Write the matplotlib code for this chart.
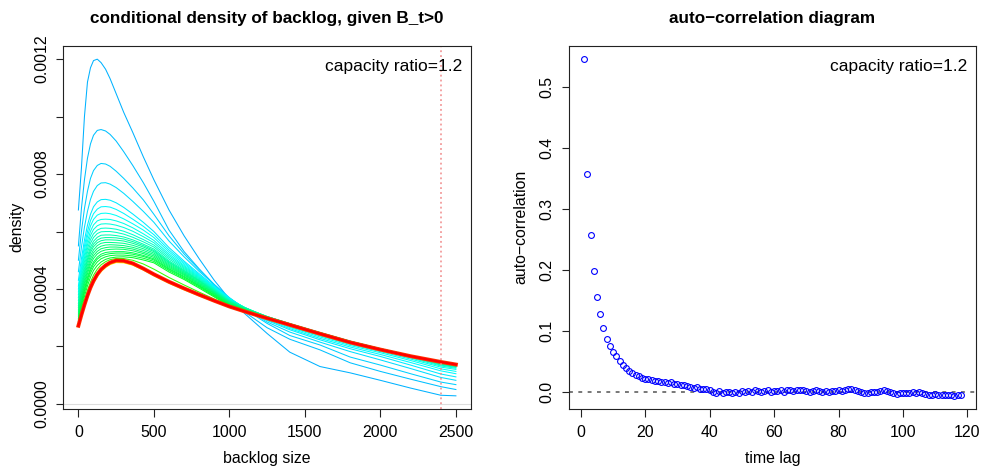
import colorsys
import numpy as np
import matplotlib
matplotlib.use("Agg")
import matplotlib.pyplot as plt

plt.rcParams['font.family'] = ['Liberation Sans', 'DejaVu Sans']

# ---- left panel: conditional densities (values in 1e-6) ----
backlog_x = [0, 20, 40, 60, 80, 100, 125, 150, 180, 210, 250, 300, 360, 430, 500,
             600, 700, 800, 900, 1000, 1100, 1250, 1400, 1600, 1800, 2000, 2200, 2400, 2500]
dens_scale = 1e-6
dens_01 = [675, 820, 1000, 1120, 1170, 1195, 1200, 1188, 1165, 1132, 1080, 1015, 945, 860, 780,
           675, 585, 505, 430, 365, 315, 245, 180, 130, 108, 82, 55, 30, 28]
dens_02 = [550, 680, 780, 855, 905, 935, 952, 955, 950, 938, 915, 878, 830, 770, 705,
           605, 530, 470, 415, 365, 320, 265, 225, 188, 143, 113, 86, 60, 50]
dens_03 = [500, 600, 680, 740, 785, 812, 830, 837, 835, 827, 810, 785, 752, 710, 660,
           585, 522, 467, 415, 368, 330, 280, 238, 205, 163, 135, 105, 76, 67]
dens_04 = [460, 545, 615, 670, 712, 740, 760, 769, 770, 765, 753, 733, 705, 670, 632,
           567, 512, 461, 415, 370, 332, 285, 250, 215, 182, 153, 123, 92, 82]
dens_05 = [430, 505, 570, 622, 660, 686, 703, 711, 712, 709, 700, 684, 661, 632, 600,
           544, 497, 453, 410, 368, 333, 290, 258, 223, 192, 165, 135, 104, 94]
dens_06 = [410, 485, 550, 600, 638, 662, 678, 686, 687, 685, 677, 663, 643, 618, 589,
           536, 492, 449, 407, 367, 334, 293, 262, 228, 198, 172, 144, 115, 105]
dens_07 = [400, 472, 535, 583, 619, 642, 657, 663, 664, 662, 656, 644, 627, 605, 579,
           529, 487, 446, 405, 366, 335, 296, 266, 233, 203, 178, 151, 122, 113]
dens_08 = [390, 460, 520, 567, 601, 623, 637, 642, 643, 642, 637, 628, 613, 592, 569,
           522, 482, 443, 403, 365, 336, 298, 269, 237, 207, 182, 156, 128, 120]
dens_09 = [380, 450, 508, 553, 586, 607, 620, 626, 627, 626, 622, 614, 601, 582, 561,
           516, 478, 440, 401, 364, 336, 300, 273, 241, 211, 186, 160, 132, 124]
dens_10 = [370, 438, 495, 540, 572, 592, 605, 611, 612, 611, 608, 601, 589, 572, 553,
           510, 474, 437, 399, 362, 336, 302, 276, 244, 214, 188, 163, 135, 127]
dens_11 = [360, 427, 483, 527, 559, 579, 593, 599, 600, 600, 597, 591, 580, 564, 546,
           504, 470, 434, 397, 360, 335, 303, 278, 246, 216, 190, 165, 137, 129]
dens_12 = [350, 416, 471, 514, 546, 566, 580, 587, 588, 588, 586, 581, 571, 556, 539,
           498, 466, 431, 395, 358, 335, 304, 279, 247, 217, 191, 166, 139, 130]
dens_13 = [342, 407, 461, 504, 536, 556, 570, 577, 579, 579, 578, 574, 565, 551, 534,
           494, 463, 429, 393, 357, 334, 304, 279, 248, 218, 192, 167, 140, 131]
dens_14 = [335, 399, 452, 495, 527, 547, 561, 568, 571, 571, 570, 567, 559, 546, 530,
           491, 460, 427, 391, 355, 333, 304, 279, 248, 218, 192, 167, 141, 132]
dens_15 = [327, 390, 442, 484, 516, 536, 551, 559, 562, 562, 561, 559, 552, 540, 525,
           487, 457, 424, 389, 354, 332, 303, 279, 248, 218, 192, 168, 142, 133]
dens_16 = [320, 381, 432, 473, 505, 526, 541, 549, 553, 554, 553, 551, 545, 534, 520,
           483, 454, 421, 387, 352, 331, 302, 279, 248, 218, 192, 168, 143, 134]
dens_17 = [313, 372, 422, 463, 495, 516, 531, 540, 544, 546, 546, 544, 539, 528, 515,
           479, 451, 418, 385, 350, 330, 301, 278, 247, 217, 192, 168, 144, 134]
dens_18 = [306, 364, 413, 453, 485, 506, 522, 531, 536, 538, 539, 538, 533, 523, 510,
           475, 448, 415, 383, 348, 329, 300, 278, 247, 217, 191, 168, 144, 135]
dens_19 = [298, 354, 402, 441, 473, 494, 511, 521, 527, 529, 530, 530, 526, 517, 505,
           471, 444, 412, 380, 346, 328, 300, 277, 246, 216, 191, 168, 145, 135]
dens_20 = [293, 348, 395, 434, 465, 487, 504, 514, 520, 523, 525, 525, 521, 513, 501,
           468, 441, 410, 378, 345, 327, 299, 277, 246, 216, 190, 167, 145, 136]
dens_21 = [287, 340, 386, 424, 455, 477, 494, 505, 512, 516, 518, 518, 515, 507, 496,
           464, 437, 407, 375, 343, 326, 298, 276, 245, 215, 190, 167, 145, 136]
dens_22 = [281, 330, 374, 411, 441, 464, 482, 494, 503, 508, 511, 512, 509, 501, 491,
           459, 433, 403, 372, 341, 325, 298, 276, 245, 215, 190, 167, 146, 136]
dens_23 = [277, 320, 360, 395, 424, 448, 469, 484, 495, 502, 506, 506, 500, 487, 469,
           440, 414, 389, 365, 343, 325, 299, 276, 245, 215, 190, 167, 146, 137]
dens_24 = [272, 308, 342, 373, 400, 422, 445, 462, 476, 486, 493, 492, 484, 467, 447,
           421, 398, 377, 357, 337, 320, 296, 273, 242, 213, 188, 165, 145, 136]
dens_lim = [272, 310, 345, 377, 405, 428, 451, 468, 482, 492, 499, 498, 489, 471, 451,
            425, 402, 380, 359, 339, 322, 298, 275, 244, 214, 189, 166, 146, 137]

curves = [dens_01, dens_02, dens_03, dens_04, dens_05, dens_06, dens_07, dens_08,
          dens_09, dens_10, dens_11, dens_12, dens_13, dens_14, dens_15, dens_16,
          dens_17, dens_18, dens_19, dens_20, dens_21, dens_22]
threshold = 2400

# ---- right panel: autocorrelation by lag ----
acf_vals = [0.546, 0.358, 0.258, 0.198, 0.156, 0.128, 0.105, 0.088, 0.076, 0.066,
            0.059, 0.051, 0.045, 0.040, 0.035, 0.031, 0.028, 0.026, 0.024, 0.022,
            0.021, 0.020, 0.019, 0.018, 0.017,
            0.017, 0.015, 0.016, 0.014, 0.013, 0.012, 0.012, 0.010, 0.009, 0.007,
            0.008, 0.006, 0.005, 0.006, 0.003,
            0.000, -0.001, 0.002, -0.002, 0.001, 0.001, -0.002, 0.000, -0.001, 0.002,
            0.001, 0.002, 0.000, 0.004, 0.002, 0.001, 0.002, 0.003, 0.001, 0.002,
            0.002, 0.003, 0.001, 0.003, 0.003, 0.002, 0.003, 0.003, 0.003, 0.002,
            0.000, 0.002, 0.003, 0.002, 0.001, 0.002, 0.001, 0.002, 0.002, 0.003,
            0.002, 0.003, 0.005, 0.005, 0.004, 0.002, 0.000, -0.001, -0.002, 0.000,
            0.001, 0.001, 0.002, 0.004, 0.002, 0.000, -0.001, -0.003, -0.002, -0.001,
            -0.001, -0.001, 0.000, -0.001, 0.000, -0.002, -0.003, -0.004, -0.004, -0.003,
            -0.004, -0.004, -0.005, -0.004, -0.005, -0.006, -0.004, -0.004]
lags = np.arange(1, len(acf_vals) + 1)

W, H = 984, 468
def fx(x):
    return x / W
def fy(y):
    return 1 - y / H

def r_lim(lo, hi):
    # R style 4% axis padding
    d = (hi - lo) * 0.04
    return lo - d, hi + d

fig = plt.figure(figsize=(9.84, 4.68), dpi=100)
ax1 = fig.add_axes([fx(63.3), fy(409.3), (471 - 63.3) / W, (409.3 - 45.7) / H])
ax2 = fig.add_axes([fx(569), fy(409.3), (976 - 569) / W, (409.3 - 45.7) / H])

lw = 0.75
bx = np.array(backlog_x)
y1 = np.array(dens_01) * dens_scale
ax1.axhline(0, color='#dddddd', lw=0.8, zorder=0)
n = len(curves)
for i, c in enumerate(curves):
    hue = 0.55 - (0.55 - 0.36) * i / (n - 1)
    col = colorsys.hsv_to_rgb(hue, 1, 1)
    ax1.plot(bx, np.array(c) * dens_scale, color=col, lw=lw)
ax1.plot(bx, np.array(dens_23) * dens_scale, color=colorsys.hsv_to_rgb(0.3, 1, 1), lw=lw)
ax1.plot(bx, np.array(dens_24) * dens_scale, color=colorsys.hsv_to_rgb(0.16, 1, 1), lw=1.2)
ax1.plot(bx, np.array(dens_lim) * dens_scale, color='#ff3300', lw=2.8)
ax1.plot(bx, np.array(dens_lim) * dens_scale, color='#ff0000', lw=1.6)
ax1.axvline(threshold, color='#f08a8a', lw=1.1, ls=(0, (1.2, 2)))
ax1.set_xlim(r_lim(0, 2500))
ax1.set_ylim(r_lim(y1.min(), y1.max()))
ax1.set_xticks([0, 500, 1000, 1500, 2000, 2500])
yt = np.arange(0, 0.00121, 0.0002)
ax1.set_yticks(yt)
ax1.set_yticklabels(['%.4f' % v if i % 2 == 0 else '' for i, v in enumerate(yt)])

ax2.axhline(0, color='#777777', lw=1.4, ls=(0, (2.0, 2.8)))
ax2.plot(lags, acf_vals, 'o', mfc='none', mec='blue', ms=4.2, mew=0.8)
ax2.set_xlim(r_lim(1, len(acf_vals)))
ax2.set_ylim(r_lim(min(acf_vals), max(acf_vals)))
ax2.set_xticks(range(0, 121, 20))
ax2.set_yticks([0, 0.1, 0.2, 0.3, 0.4, 0.5])
ax2.set_yticklabels(['0.0', '0.1', '0.2', '0.3', '0.4', '0.5'])

for ax in (ax1, ax2):
    for s in ax.spines.values():
        s.set_linewidth(0.8)
        s.set_color('#222222')
    ax.tick_params(length=5.4, width=0.8, color='#222222', labelsize=11.4)
    ax.tick_params(axis='x', pad=5.8)
    ax.tick_params(axis='y', pad=4.9)
    for lab in ax.get_yticklabels():
        lab.set_rotation(90)
        lab.set_va('center')

fig.text(fx(267), fy(18), 'conditional density of backlog, given B_t>0',
         ha='center', va='center', fontsize=12.3, fontweight='bold')
fig.text(fx(772.5), fy(18), 'auto\u2212correlation diagram',
         ha='center', va='center', fontsize=12.3, fontweight='bold')
fig.text(fx(267), fy(459), 'backlog size', ha='center', va='center', fontsize=11.4)
fig.text(fx(772.5), fy(459), 'time lag', ha='center', va='center', fontsize=11.4)
fig.text(fx(17), fy(227), 'density', ha='center', va='center', fontsize=11.4, rotation=90)
fig.text(fx(521), fy(227), 'auto\u2212correlation', ha='center', va='center', fontsize=11.4, rotation=90)
fig.text(fx(462.7), fy(67), 'capacity ratio=1.2', ha='right', va='center', fontsize=12.5)
fig.text(fx(967.3), fy(67), 'capacity ratio=1.2', ha='right', va='center', fontsize=12.5)

fig.savefig('out.png', dpi=100)
